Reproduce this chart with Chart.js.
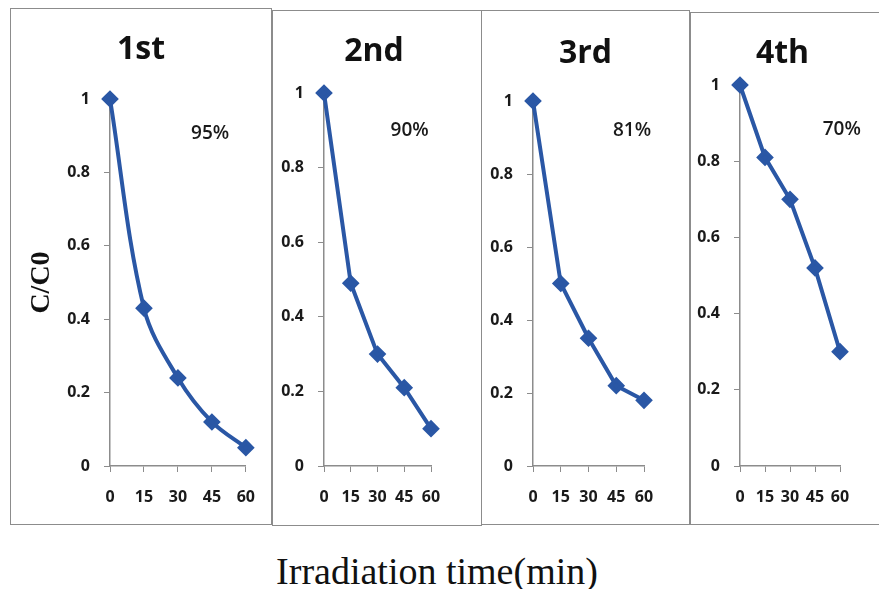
<!DOCTYPE html>
<html>
<head>
<meta charset="utf-8">
<script src="https://cdn.jsdelivr.net/npm/chart.js@4.4.1/dist/chart.umd.min.js"></script>
<style>
    body { margin: 0; background: #fff; width: 879px; height: 589px; position: relative; overflow: hidden; }
    .panel { position: absolute; border: 1px solid #8c8c8c; background: #fff; box-sizing: border-box; }
    .panel canvas { display: block; }
    #xtitle {
        position: absolute; left: 0; width: 874px; top: 548px; text-align: center;
        font-family: "Liberation Serif", "DejaVu Serif", serif; font-size: 38px; line-height: 46px; color: #111;
    }
</style>
</head>
<body>
<div class="panel" id="p0"><canvas id="c0"></canvas></div>
<div class="panel" id="p1"><canvas id="c1"></canvas></div>
<div class="panel" id="p2"><canvas id="c2"></canvas></div>
<div class="panel" id="p3"><canvas id="c3"></canvas></div>
<div id="xtitle">Irradiation time(min)</div>

<script>
// Data
const times = ['0', '15', '30', '45', '60'];
const cycles = ['1st', '2nd', '3rd', '4th'];
const run1 = [1, 0.43, 0.24, 0.12, 0.05];
const run2 = [1, 0.49, 0.30, 0.21, 0.10];
const run3 = [1, 0.50, 0.35, 0.22, 0.18];
const run4 = [1, 0.81, 0.70, 0.52, 0.30];
const removal = ['95%', '90%', '81%', '70%'];
const yTicks = [0, 0.2, 0.4, 0.6, 0.8, 1];

const runs = [run1, run2, run3, run4];

// where the % note sits (category index / y value)
const noteAt = [[2.95, 0.907], [3.2, 0.898], [3.57, 0.918], [4.07, 0.882]];

// panel boxes: left, top, width, height and inner layout
const boxes = [
    { x: 10,  y: 8,  w: 262, h: 517, yw: 99, xh: 58, pr: 24, ct: 90, ty: 41, tx: 0 },
    { x: 272, y: 10, w: 210, h: 516, yw: 51, xh: 59, pr: 50, ct: 82, ty: 41, tx: -3 },
    { x: 481, y: 10, w: 209, h: 515, yw: 51, xh: 58, pr: 45, ct: 90, ty: 43, tx: 0 },
    { x: 690, y: 12, w: 195, h: 513, yw: 49, xh: 58, pr: 44, ct: 72, ty: 41, tx: -5 }
];

const blue = '#2a57a5';
const tickFont = { family: '"Open Sans", "DejaVu Sans", sans-serif', size: 16, weight: 'bold' };

// percent note + panel heading, centred on the box
const notePlugin = {
    id: 'note',
    afterDatasetsDraw(chart, args, opts) {
        const { ctx, scales } = chart;
        ctx.save();
        ctx.textAlign = 'center';
        ctx.textBaseline = 'middle';
        ctx.fillStyle = '#1a1a1a';
        ctx.font = '600 19px "Open Sans", sans-serif';
        ctx.fillText(opts.text, scales.x.getPixelForValue(opts.at[0]), scales.y.getPixelForValue(opts.at[1]));
        ctx.fillStyle = '#111';
        ctx.font = 'bold 32px "Open Sans", sans-serif';
        ctx.fillText(opts.heading, chart.width / 2 + opts.headingDx, opts.headingY);
        ctx.restore();
    }
};

cycles.forEach((name, i) => {
    const b = boxes[i];
    const box = document.getElementById('p' + i);
    box.style.left = b.x + 'px';
    box.style.top = b.y + 'px';
    box.style.width = b.w + 'px';
    box.style.height = b.h + 'px';

    const cv = document.getElementById('c' + i);
    cv.width = b.w - 2;
    cv.height = b.h - 2;

    new Chart(cv.getContext('2d'), {
        type: 'line',
        data: {
            labels: times,
            datasets: [{
                data: runs[i],
                borderColor: blue,
                backgroundColor: blue,
                borderWidth: 4,
                tension: i === 0 ? 0.35 : 0,
                pointStyle: 'rectRot',
                pointRadius: 6,
                pointHoverRadius: 6,
                clip: false
            }]
        },
        options: {
            responsive: false,
            animation: false,
            layout: { padding: { left: 0, right: b.pr, top: b.ct, bottom: 0 } },
            scales: {
                x: {
                    type: 'category',
                    offset: false,
                    grid: { display: true, drawOnChartArea: false, tickLength: 6, color: '#8c8c8c' },
                    border: { color: '#8c8c8c', width: 1.5 },
                    ticks: { color: '#1a1a1a', font: tickFont, padding: 16, autoSkip: false, maxRotation: 0 },
                    afterFit(scale) { scale.height = b.xh; }
                },
                y: {
                    min: 0,
                    max: 1,
                    afterBuildTicks(scale) { scale.ticks = yTicks.map(v => ({ value: v })); },
                    grid: { display: true, drawOnChartArea: false, tickLength: 6, color: '#8c8c8c' },
                    border: { color: '#8c8c8c', width: 1.5 },
                    ticks: {
                        color: '#1a1a1a', font: tickFont, padding: 14,
                        callback: v => String(Number(v.toFixed(1)))
                    },
                    title: {
                        display: i === 0,
                        text: 'C/C0',
                        color: '#111',
                        font: { family: '"Liberation Serif", "DejaVu Serif", serif', size: 28, weight: 'bold' },
                        padding: { top: 14, bottom: 0 }
                    },
                    afterFit(scale) { scale.width = b.yw; }
                }
            },
            plugins: {
                legend: { display: false },
                tooltip: { enabled: false },
                title: { display: false },
                note: { text: removal[i], at: noteAt[i], heading: name, headingY: b.ty, headingDx: b.tx }
            }
        },
        plugins: [notePlugin]
    });
});
</script>
</body>
</html>
